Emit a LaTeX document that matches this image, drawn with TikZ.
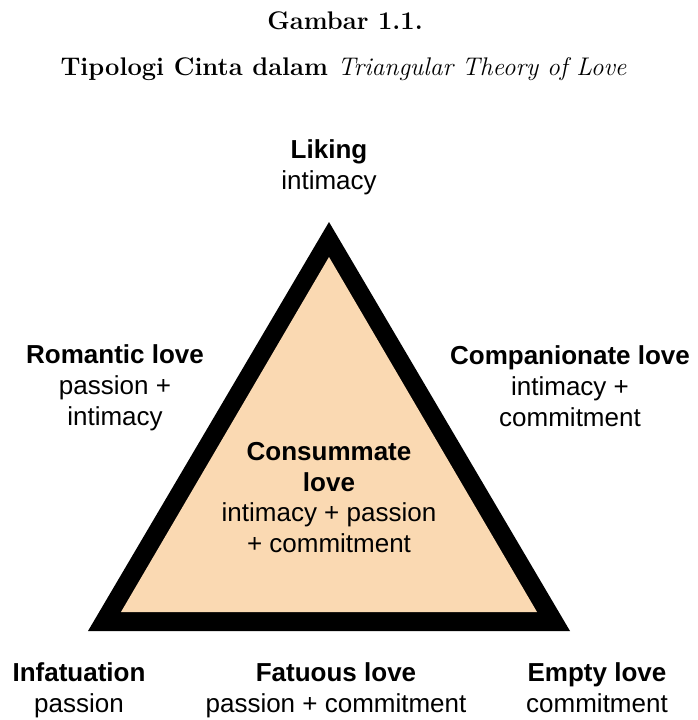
\documentclass[tikz,border=0pt]{standalone}
\usepackage{fontspec}
\newfontfamily\labelfont{Liberation Sans}
\tikzset{
  lbl/.style={anchor=base, inner sep=0.75pt, align=center,
    font=\labelfont\fontsize{26}{30.8}\selectfont},
  ttl/.style={anchor=base, inner sep=0.75pt,
    font=\fontsize{25.5}{30}\selectfont\bfseries}
}
\begin{document}
\begin{tikzpicture}[x=1pt,y=1pt,yscale=-1,xscale=1]
\useasboundingbox (0,0) rectangle (697,720);
%Shape: Triangle (outer border)
\draw  [draw=none, fill={rgb, 255:red, 0; green, 0; blue, 0 }  ,fill opacity=1 ] (88,631) -- (570,631) -- (329,222) -- cycle ;
%Shape: Triangle (inner area)
\draw  [draw=none, fill={rgb, 255:red, 250; green, 217; blue, 178 }  ,fill opacity=1 ] (121,612) -- (537,612) -- (329,257) -- cycle ;
% Title
\draw (345,29.5) node [ttl] (fig) {Gambar 1.1.};
\draw (343.5,75.7) node [ttl] (caption) {Tipologi Cinta dalam {\mdseries\itshape Triangular Theory of Love}};
% Text Node
\draw (329,189) node [lbl] (liking) {\textbf{Liking}\\intimacy};
% Text Node
\draw (115,425.5) node [lbl] (romantic) {\textbf{Romantic love}\\passion +\\intimacy};
% Text Node
\draw (570,426.5) node [lbl] (companionate) {\textbf{Companionate love}\\intimacy +\\commitment};
% Text Node
\draw (329,552.6) node [lbl] (consummate) {\textbf{Consummate}\\\textbf{love}\\intimacy + passion\\+ commitment};
% Text Node
\draw (79,712) node [lbl] (infatuation) {\textbf{Infatuation}\\passion};
% Text Node
\draw (336,712) node [lbl] (fatuous) {\textbf{Fatuous love}\\passion + commitment};
% Text Node
\draw (597,712) node [lbl] (empty) {\textbf{Empty love}\\commitment};
\end{tikzpicture}
\end{document}
